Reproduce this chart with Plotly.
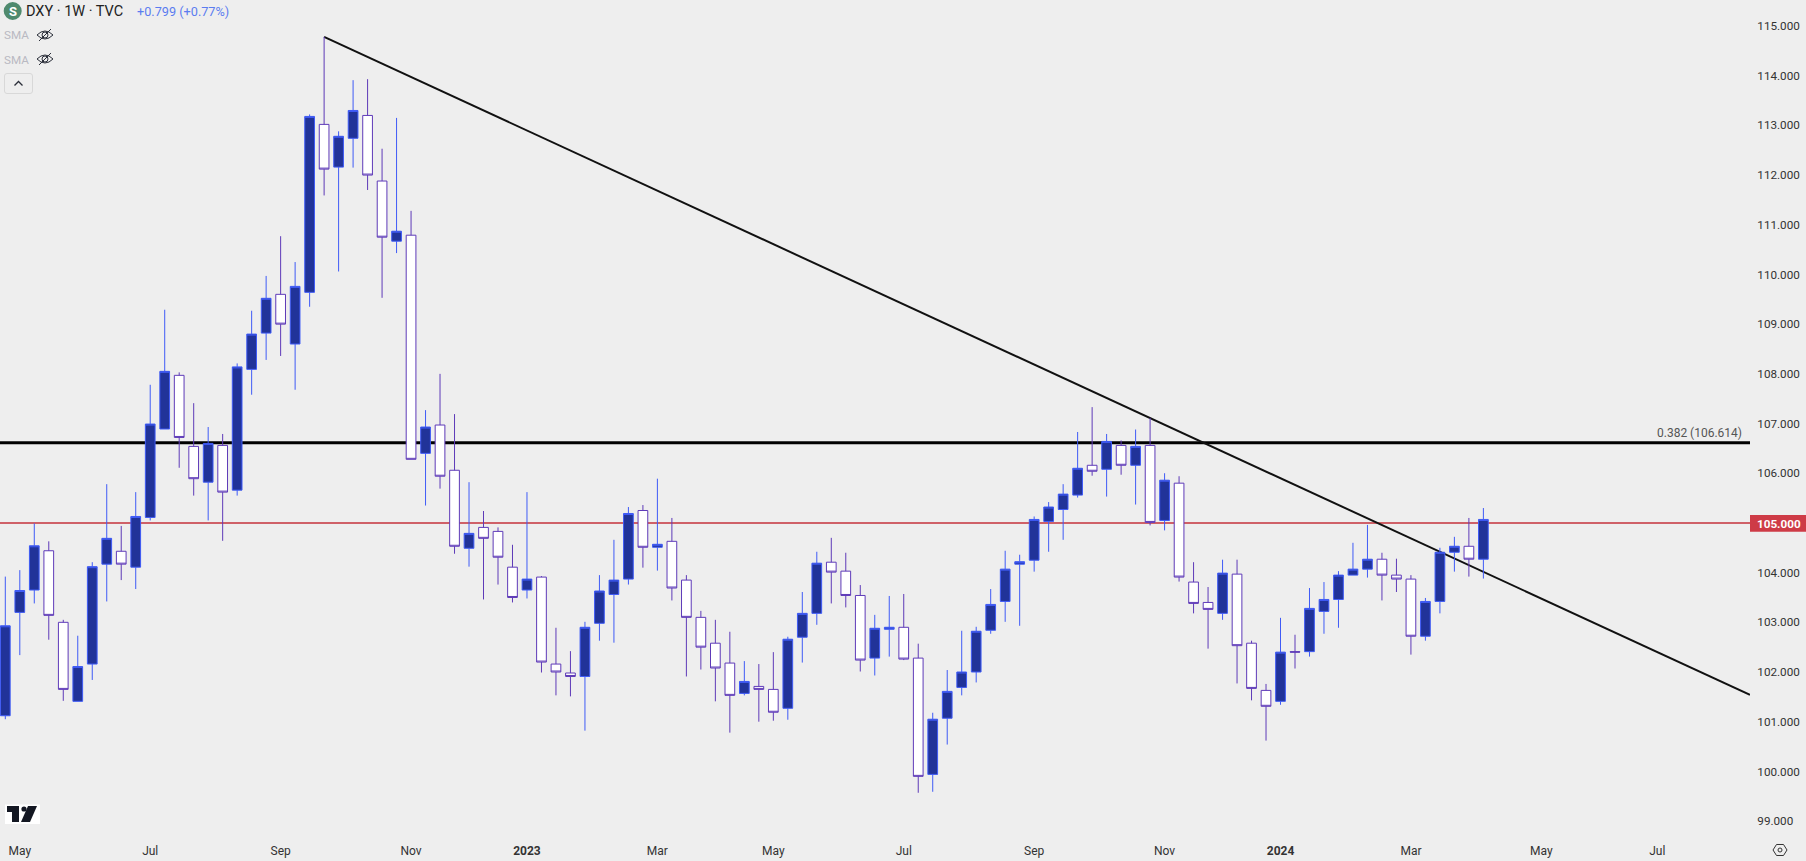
import pandas as pd
import plotly.graph_objects as go

first_week = "2022-04-25"
opens = [101.12,103.20,103.65,104.44,103.00,101.41,102.16,104.17,104.43,104.11,105.11,106.89,107.97,106.54,105.82,106.56,105.66,108.09,108.82,109.60,108.60,109.64,113.02,112.16,112.74,113.20,111.88,110.67,110.79,106.40,106.97,106.06,104.49,104.91,104.83,104.11,103.65,103.91,102.16,101.98,101.91,102.98,103.56,103.87,105.25,104.51,104.63,103.85,103.10,102.58,102.18,101.57,101.71,101.65,101.27,102.70,103.18,104.21,104.03,103.54,102.28,102.86,102.90,102.28,99.94,101.07,101.69,102.00,102.84,103.42,104.17,104.25,105.03,105.27,105.56,106.16,106.08,106.56,106.16,106.56,105.05,105.80,103.81,103.40,103.18,103.97,102.58,101.63,101.41,102.41,102.41,103.22,103.46,103.95,104.07,104.27,103.95,103.87,102.72,103.42,104.41,104.53,104.27]
highs = [103.92,104.05,104.99,104.63,103.05,102.73,104.21,105.78,104.94,105.62,107.78,109.29,108.03,107.41,106.93,106.79,108.21,109.27,109.97,110.77,110.25,113.22,114.78,112.88,113.91,113.93,112.53,113.15,111.28,107.27,108.00,107.19,105.82,105.24,104.91,104.56,105.62,103.93,102.89,102.42,103.01,103.95,104.66,105.32,105.36,105.89,105.10,103.95,103.23,103.05,102.81,102.22,102.16,102.40,102.71,103.61,104.42,104.70,104.40,103.75,103.15,103.53,103.57,102.57,101.18,102.04,102.83,102.91,103.67,104.44,104.36,105.13,105.42,105.78,106.83,107.33,106.79,106.66,106.88,107.11,106.00,105.94,104.21,103.71,104.26,104.26,102.63,101.76,103.09,102.75,103.69,103.81,104.03,104.60,104.96,104.40,104.28,103.95,103.49,104.50,104.72,105.10,105.30]
lows = [101.05,102.34,103.38,102.65,101.42,101.41,101.84,103.42,103.85,103.67,105.05,106.89,106.11,105.55,105.05,104.64,105.55,107.58,108.28,108.36,107.68,109.35,111.59,110.06,112.15,111.70,109.53,110.43,106.28,105.35,105.69,104.38,104.12,103.46,103.76,103.40,103.48,101.99,101.53,101.51,100.82,102.63,102.59,103.76,104.10,104.04,103.44,101.91,102.05,101.41,100.78,101.53,101.00,101.02,101.04,102.19,102.95,103.38,103.30,102.01,101.93,102.31,102.24,99.57,99.59,100.54,101.53,101.79,102.77,103.01,102.93,104.02,104.42,104.66,105.51,105.95,105.53,105.97,105.37,104.95,104.85,103.82,103.18,102.47,103.05,101.77,101.43,100.62,101.34,102.07,102.31,102.77,102.89,103.95,103.90,103.44,103.61,102.35,102.63,103.18,104.02,103.92,103.88]
closes = [102.93,103.64,104.54,103.14,101.65,102.11,104.12,104.69,104.17,105.13,106.99,108.05,106.72,105.89,106.60,105.62,108.14,108.80,109.52,109.00,109.76,113.18,112.12,112.78,113.30,112.00,110.75,110.87,106.28,106.93,105.94,104.53,104.79,104.69,104.31,103.50,103.87,102.20,102.00,101.91,102.90,103.63,103.85,105.19,104.51,104.57,103.69,103.10,102.50,102.08,101.53,101.81,101.65,101.19,102.66,103.18,104.19,104.01,103.54,102.24,102.88,102.90,102.26,99.90,101.05,101.61,102.00,102.82,103.36,104.07,104.22,105.07,105.32,105.58,106.10,106.04,106.64,106.16,106.54,105.01,105.86,103.91,103.38,103.26,103.99,102.53,101.67,101.31,102.40,102.40,103.28,103.46,103.95,104.07,104.27,103.95,103.87,102.72,103.42,104.41,104.53,104.27,105.07]

trend_x = ["2022-09-26", "2024-08-14 19:00"]
trend_y = [114.78, 101.54]
fib_level = 106.614
red_level = 105.0
x_range = ["2022-04-22 10:30", "2024-08-14 19:00"]
y_range = [98.70, 115.523]
y_ticks = [99,100,101,102,103,104,106,107,108,109,110,111,112,113,114,115]
x_ticks = ["2022-05-02","2022-07-04","2022-09-05","2022-11-07","2023-01-02","2023-03-06","2023-05-01","2023-07-03","2023-09-04","2023-11-06","2024-01-01","2024-03-04","2024-05-06","2024-07-01"]
x_labels = ["May","Jul","Sep","Nov","<b>2023</b>","Mar","May","Jul","Sep","Nov","<b>2024</b>","Mar","May","Jul"]

BG = "#EEEEEE"
W, H, R, B = 1806, 861, 56, 25
PW, PH = W - R, H - B
dates = pd.date_range(first_week, periods=len(opens), freq="7D")

def px(x, y):
    return x / PW, 1 - y / PH

def path(cmds):
    out = []
    for c in cmds:
        if isinstance(c, str):
            out.append(c)
        else:
            a, b = px(*c)
            out.append(f"{a:.6f},{b:.6f}")
    return " ".join(out)

def rel_shape(d, line="#2a2e39", width=1, fill=None):
    s = dict(type="path", xref="paper", yref="paper", path=path(d), line=dict(color=line, width=width), layer="above")
    if fill:
        s["fillcolor"] = fill
    return s

def rect(x0, y0, x1, y1, fill, line=None):
    a0, b0 = px(x0, y0)
    a1, b1 = px(x1, y1)
    return dict(type="rect", xref="paper", yref="paper", x0=a0, y0=b0, x1=a1, y1=b1, fillcolor=fill,
                line=dict(color=line or fill, width=1 if line else 0), layer="above")

def circle(cx, cy, r, fill, line=None, lw=1):
    a0, b0 = px(cx - r, cy + r)
    a1, b1 = px(cx + r, cy - r)
    return dict(type="circle", xref="paper", yref="paper", x0=a0, y0=b0, x1=a1, y1=b1, fillcolor=fill,
                line=dict(color=line or fill, width=lw if line else 0), layer="above")

def label(text, x, y, size, color, anchor="left", family="Roboto"):
    a, b = px(x, y)
    return dict(text=text, x=a, y=b, xref="paper", yref="paper", xanchor=anchor, yanchor="middle", showarrow=False,
                font=dict(size=size, color=color, family=family), borderpad=0, borderwidth=0)

fig = go.Figure()
fig.add_trace(go.Scatter(x=[x_range[0], x_range[1]], y=[fib_level, fib_level], mode="lines",
                         line=dict(color="#000000", width=3), hoverinfo="skip", showlegend=False, zorder=0))
fig.add_trace(go.Scatter(x=[x_range[0], x_range[1]], y=[red_level, red_level], mode="lines",
                         line=dict(color="#CF6168", width=2), hoverinfo="skip", showlegend=False, zorder=0))
fig.add_trace(go.Scatter(x=trend_x, y=trend_y, mode="lines",
                         line=dict(color="#111111", width=2), hoverinfo="skip", showlegend=False, zorder=0))
fig.add_trace(go.Candlestick(x=dates, open=opens, high=highs, low=lows, close=closes,
                             increasing=dict(line=dict(color="#3F5BF6", width=1), fillcolor="#213399"),
                             decreasing=dict(line=dict(color="#5E3AB8", width=1), fillcolor="#FFFFFF"),
                             whiskerwidth=0, hoverinfo="skip", showlegend=False, zorder=1))

shapes = []
# S badge, eye icons, collapse button
shapes.append(circle(12.7, 11, 9, "#4F8A6E"))
for cy in (35, 59):
    shapes.append(rel_shape(["M", (37, cy), "Q", (45, cy - 8), (53, cy), "Q", (45, cy + 8), (37, cy), "Z"]))
    shapes.append(circle(45, cy, 3, "rgba(0,0,0,0)", "#2a2e39"))
    shapes.append(rel_shape(["M", (39, cy + 6), "L", (51, cy - 6)]))
shapes.append(rel_shape(["M", (7, 73.5), "L", (30, 73.5), "Q", (32.5, 73.5), (32.5, 76), "L", (32.5, 91), "Q", (32.5, 93.5), (30, 93.5),
                         "L", (7, 93.5), "Q", (4.5, 93.5), (4.5, 91), "L", (4.5, 76), "Q", (4.5, 73.5), (7, 73.5), "Z"], line="#D8D8D8"))
shapes.append(rel_shape(["M", (14.5, 85.5), "L", (18.5, 81.5), "L", (22.5, 85.5)], line="#2a2e39", width=1.3))
# price tag
shapes.append(rect(1750, 515, 1806, 531.7, "#CE3B46"))
# logo
shapes.append(rect(5, 804.5, 40, 824, "#FFFFFF"))
shapes.append(rel_shape(["M", (7, 806), "L", (19, 806), "L", (19, 822), "L", (12, 822), "L", (12, 812), "L", (7, 812), "Z"], line="#131722", width=0, fill="#131722"))
shapes.append(circle(24, 809, 2.6, "#131722"))
shapes.append(rel_shape(["M", (28, 806), "L", (37, 806), "L", (30, 822), "L", (21, 822), "Z"], line="#131722", width=0, fill="#131722"))
# settings icon
shapes.append(rel_shape(["M", (1773, 850), "L", (1776.5, 844.5), "L", (1783.5, 844.5), "L", (1787, 850), "L", (1783.5, 855.5), "L", (1776.5, 855.5), "Z"], line="#333333"))
shapes.append(circle(1780, 850, 2, "rgba(0,0,0,0)", "#333333"))

annotations = [
    label("<b>S</b>", 12.7, 11.5, 13, "#FFFFFF", "center"),
    label("DXY · 1W · TVC", 26, 11.5, 14.5, "#222222"),
    label("+0.799 (+0.77%)", 136.5, 11.5, 12.7, "#5B7CF0"),
    label("SMA", 4, 35.5, 11.7, "#B9B9C2"),
    label("SMA", 4, 59.5, 11.7, "#B9B9C2"),
    label("0.382 (106.614)", 1742, 432.7, 12, "#555555", "right"),
    label("<b>105.000</b>", 1757, 523.5, 11.7, "#FFFFFF"),
]

fig.update_layout(
    width=W, height=H, autosize=False,
    margin=dict(l=0, r=R, t=0, b=B, pad=0),
    paper_bgcolor=BG, plot_bgcolor=BG,
    showlegend=False, hovermode=False,
    boxgap=0.33, boxgroupgap=0,
    shapes=shapes, annotations=annotations,
    font=dict(family="Roboto", size=12, color="#333333"),
    xaxis=dict(type="date", range=x_range, rangeslider=dict(visible=False), showgrid=False, zeroline=False, showline=False,
               tickmode="array", tickvals=x_ticks, ticktext=x_labels, ticks="outside", ticklen=4, tickcolor=BG,
               tickfont=dict(family="Roboto", size=12, color="#333333")),
    yaxis=dict(side="right", range=y_range, showgrid=False, zeroline=False, showline=False,
               tickmode="array", tickvals=y_ticks, tickformat=".3f", ticks="outside", ticklen=4, tickcolor=BG,
               tickfont=dict(family="Roboto", size=11.7, color="#333333")),
)

fig.write_html("out.html", config=dict(displayModeBar=False),
               post_script="document.body.style.margin='0';document.documentElement.style.overflow='hidden';")
